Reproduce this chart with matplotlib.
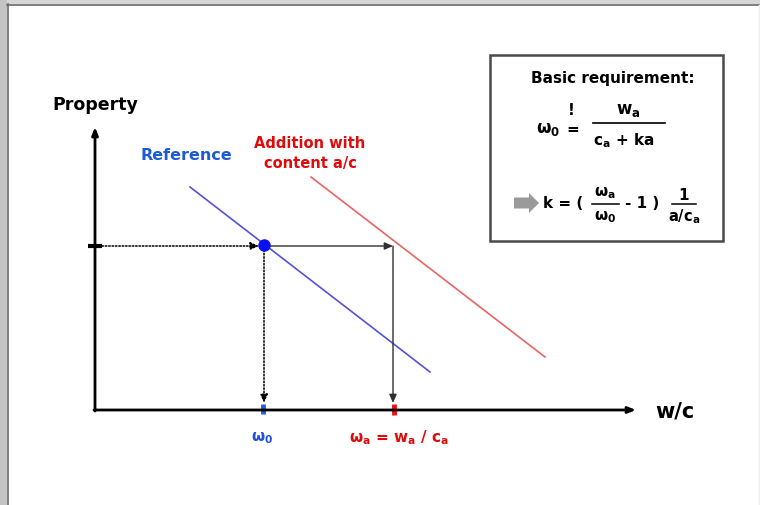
import matplotlib
matplotlib.use("Agg")
import matplotlib.pyplot as plt
from matplotlib.patches import Rectangle, FancyArrow

plt.rcParams['font.family'] = ['DejaVu Sans']
plt.rcParams['mathtext.fontset'] = 'dejavusans'
plt.rcParams['mathtext.default'] = 'bf'

# ---- diagram data (canvas units: x to the right, y downward) ----
origin = (95, 411)
x_axis_end = 636
y_axis_end = 128
ref_line_x = [190, 430]
ref_line_y = [188, 373]
add_line_x = [311, 545]
add_line_y = [178, 358]
point_x = 264
point_y = 246
omega0_x = 263
omegaa_x = 394

BLUE_TXT = '#1c5ad8'
BLUE_LINE = '#5252dc'
RED_TXT = '#e00a0a'
RED_LINE = '#e86464'

fig = plt.figure(figsize=(7.6, 5.06), dpi=100)
ax = fig.add_axes([0, 0, 1, 1])
ax.set_xlim(0, 760)
ax.set_ylim(506, 0)
ax.axis('off')

# window frame
ax.add_patch(Rectangle((0, 0), 760, 5, color='#d6d6d6', lw=0))
ax.add_patch(Rectangle((0, 0), 7, 506, color='#c4c4c4', lw=0))
ax.plot([7, 760], [5.5, 5.5], color='#6a6a6a', lw=1.2)
ax.plot([7.5, 7.5], [5, 506], color='#6a6a6a', lw=1.2)
ax.plot([758.5, 758.5], [6, 506], color='#eeeeee', lw=1)

# axes with arrows
ax.annotate('', xy=(origin[0], y_axis_end), xytext=(origin[0], origin[1] + 1),
            arrowprops=dict(arrowstyle='-|>,head_length=0.45,head_width=0.18', color='black', lw=2.0,
                            shrinkA=0, shrinkB=0))
ax.annotate('', xy=(x_axis_end, origin[1]), xytext=(origin[0] - 1, origin[1]),
            arrowprops=dict(arrowstyle='-|>,head_length=0.45,head_width=0.18', color='black', lw=2.0,
                            shrinkA=0, shrinkB=0))

# property tick
ax.plot([88, 102], [point_y + 1, point_y + 1], color='black', lw=3, solid_capstyle='butt')

# lines
ax.plot(ref_line_x, ref_line_y, color=BLUE_LINE, lw=1.2)
ax.plot(add_line_x, add_line_y, color=RED_LINE, lw=1.2)

# dotted projection lines for reference
ax.annotate('', xy=(point_x - 5, point_y + 1), xytext=(102, point_y + 1),
            arrowprops=dict(arrowstyle='-|>,head_length=0.5,head_width=0.22', color='black', lw=1.1,
                            linestyle=(0, (1, 1.2)), shrinkA=0, shrinkB=0))
ax.annotate('', xy=(point_x, origin[1] - 7), xytext=(point_x, point_y + 5),
            arrowprops=dict(arrowstyle='-|>,head_length=0.5,head_width=0.22', color='black', lw=1.1,
                            linestyle=(0, (1, 1.2)), shrinkA=0, shrinkB=0))
# solid projection lines for addition
ax.annotate('', xy=(omegaa_x - 1, point_y + 1), xytext=(point_x + 6, point_y + 1),
            arrowprops=dict(arrowstyle='-|>,head_length=0.5,head_width=0.22', color='#303030', lw=1.0,
                            shrinkA=0, shrinkB=0))
ax.annotate('', xy=(omegaa_x - 1, origin[1] - 7), xytext=(omegaa_x - 1, point_y + 1),
            arrowprops=dict(arrowstyle='-|>,head_length=0.5,head_width=0.22', color='#303030', lw=1.0,
                            shrinkA=0, shrinkB=0))

# the point
ax.plot([point_x], [point_y], 'o', color='#0a10f0', markersize=8, zorder=5)

# x tick marks
ax.plot([omega0_x, omega0_x], [origin[1] - 6, origin[1] + 4], color='#2a5ae0', lw=3.5, solid_capstyle='butt')
ax.plot([omegaa_x, omegaa_x], [origin[1] - 6, origin[1] + 5], color='#f01010', lw=3.5, solid_capstyle='butt')

# axis labels
ax.text(52, 105, 'Property', fontsize=12.5, fontweight='bold', ha='left', va='center')
ax.text(655, 412, 'w/c', fontsize=15, fontweight='bold', ha='left', va='center')

# curve labels
ax.text(141, 155, 'Reference', fontsize=11.5, fontweight='bold', color=BLUE_TXT, ha='left', va='center')
ax.text(310, 143, 'Addition with', fontsize=10.5, fontweight='bold', color=RED_TXT, ha='center', va='center')
ax.text(310, 163, 'content a/c', fontsize=10.5, fontweight='bold', color=RED_TXT, ha='center', va='center')

# tick labels
ax.text(omega0_x - 1, 438, r'$ω_0$', fontsize=11, color='#2050e0', ha='center', va='center')
ax.text(399, 438, r'$ω_a$ = $w_a$ / $c_a$', fontsize=11, color=RED_TXT, ha='center', va='center',
        fontweight='bold')

# requirement box
ax.add_patch(Rectangle((490, 56), 233, 186, fill=False, edgecolor='#4a4a4a', lw=1.8))
ax.text(613, 78, 'Basic requirement:', fontsize=11, fontweight='bold', ha='center', va='center')
ax.text(548, 129, r'$ω_0$', fontsize=12, ha='center', va='center')
ax.text(571, 110, '!', fontsize=11, fontweight='bold', ha='center', va='center')
ax.text(573, 129, '=', fontsize=11, fontweight='bold', ha='center', va='center')
ax.text(628, 110, r'$w_a$', fontsize=12, ha='center', va='center')
ax.plot([593, 665], [124, 124], color='black', lw=1.2)
ax.text(624, 141, r'$c_a$ + ka', fontsize=11, fontweight='bold', ha='center', va='center')

ax.add_patch(FancyArrow(514, 204, 25, 0, width=11, head_width=20, head_length=10,
                        length_includes_head=True, color='#9a9a9a', lw=0))
ax.text(543, 204, 'k = (', fontsize=11, fontweight='bold', ha='left', va='center')
ax.text(605, 193, r'$ω_a$', fontsize=11, ha='center', va='center')
ax.plot([592, 619], [205, 205], color='black', lw=1.1)
ax.text(605, 217, r'$ω_0$', fontsize=11, ha='center', va='center')
ax.text(625, 204, '- 1 )', fontsize=11, fontweight='bold', ha='left', va='center')
ax.text(684, 195, '1', fontsize=11, fontweight='bold', ha='center', va='center')
ax.plot([672, 696], [205, 205], color='black', lw=1.1)
ax.text(684, 217, r'a/$c_a$', fontsize=10.5, fontweight='bold', ha='center', va='center')

fig.savefig('out.png', dpi=100)
